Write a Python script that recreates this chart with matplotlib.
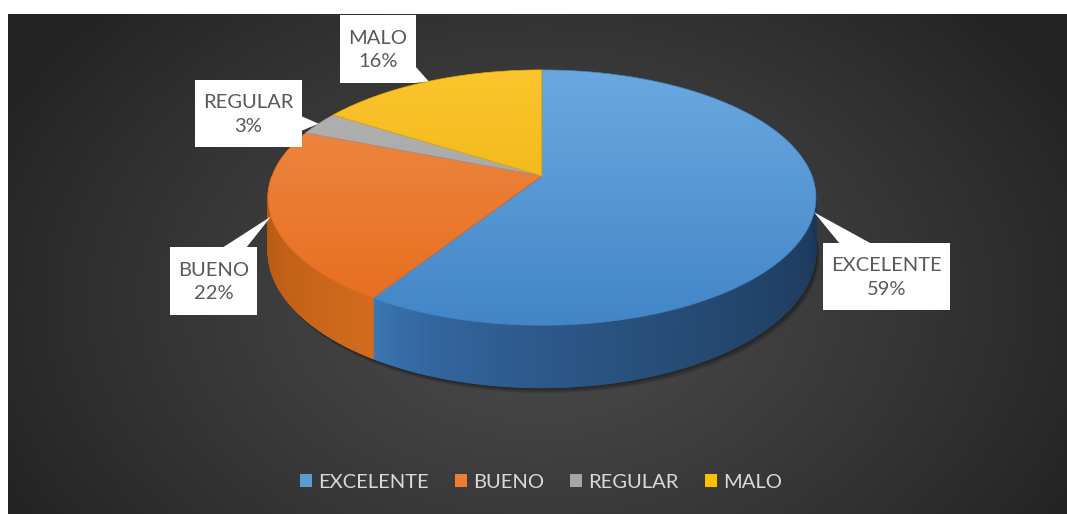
import numpy as np
import matplotlib.pyplot as plt
from matplotlib.patches import Polygon, Rectangle, Patch
from matplotlib.collections import PolyCollection
from matplotlib.colors import to_rgb

plt.rcParams['font.family'] = ['Lato', 'DejaVu Sans']

# data
categories = ['EXCELENTE', 'BUENO', 'REGULAR', 'MALO']
values = [59, 22, 3, 16]

# colours
legend_colors = ['#5b9bd5', '#ed7d31', '#a5a5a5', '#ffc000']
top_light = ['#6ba8e0', '#f08c48', '#b4b4b4', '#fcc52e']
top_dark = ['#4286c8', '#e56c1c', '#9c9c9c', '#e6ac00']
wall_start = ['#3e7bbe', '#b0560f', '#8a8a8a', '#c89600']
wall_end = ['#1a3553', '#d26b1e', '#8a8a8a', '#c89600']

# pie geometry in pixels (perspective disc)
CX, CY = 542, 176
A, B, K = 270, 124, 0.169
DEPTH = 52

# label boxes (x0, y0, x1, y1) and the edge the pointer leaves from
label_boxes = {
    'EXCELENTE': ((823, 243, 950, 310), 'top', (840, 872)),
    'BUENO': ((170, 247, 257, 315), 'top', (222, 246)),
    'REGULAR': ((195, 80, 302, 147), 'right', (116, 131)),
    'MALO': ((340, 15, 416, 83), 'right', (66, 83)),
}


def rim(theta, drop=0.0):
    t = np.radians(theta)
    u, v = np.cos(t), np.sin(t)
    s = 1.0 / (1 + K * v)
    return CX + A * u * s, CY - B * v * s + drop * s


def mix(c1, c2, t):
    c1, c2 = np.array(to_rgb(c1)), np.array(to_rgb(c2))
    return c1 + (c2 - c1) * t


fig = plt.figure(figsize=(10.67, 5.14), dpi=100)
fig.patch.set_facecolor('white')
ax = fig.add_axes([0, 0, 1, 1])
ax.axis('off')

# dark radial background
gx, gy = np.meshgrid(np.linspace(8, 1067, 400), np.linspace(14, 514, 200))
r = np.sqrt(((gx - 540) / 600) ** 2 + ((gy - 300) / 430) ** 2)
r = np.clip(r, 0, 1)
lev = (0x4b - (0x4b - 0x24) * r ** 1.2) / 255.0
bg = np.dstack([lev, lev, lev])
ax.imshow(bg, extent=(8, 1067, 514, 14), aspect='auto', zorder=0, interpolation='bilinear')

# angles: start at 12 o'clock, clockwise
total = float(sum(values))
spans = [v / total * 360 for v in values]
starts = 90 - np.concatenate([[0], np.cumsum(spans)[:-1]])
ends = starts - np.array(spans)

# soft shadow under the pie
full = np.linspace(0, 360, 300)
for off in range(1, 8):
    bx, by = rim(full, DEPTH)
    ax.add_patch(Polygon(np.column_stack([bx + off * 0.5, by + off * 0.8]), closed=True,
                         facecolor='black', edgecolor='none', alpha=0.07, zorder=1))

# side walls (front half only)
for i in range(len(values)):
    phi = np.linspace(ends[i], starts[i], 500)
    mask = np.sin(np.radians(phi)) <= 1e-9
    if mask.sum() < 2:
        continue
    phi = phi[mask]
    tx, ty = rim(phi)
    bx, by = rim(phi, DEPTH)
    polys, cols = [], []
    n = len(phi)
    for j in range(n - 1):
        polys.append([(tx[j], ty[j]), (tx[j + 1], ty[j + 1]), (bx[j + 1], by[j + 1]), (bx[j], by[j])])
        t = (phi[j] - phi[0]) / (phi[-1] - phi[0])
        if i == 0:
            t = t ** 0.55
        cols.append(mix(wall_start[i], wall_end[i], t))
    ax.add_collection(PolyCollection(polys, facecolors=cols, edgecolors=cols, linewidths=0.6, zorder=2))

# top faces with vertical gradient
top_y, bot_y = rim(90)[1], rim(270)[1]
for i in range(len(values)):
    phi = np.linspace(starts[i], ends[i], 300)
    px, py = rim(phi)
    pts = np.vstack([[CX, CY], np.column_stack([px, py])])
    poly = Polygon(pts, closed=True, facecolor='none', edgecolor='none')
    ax.add_patch(poly)
    gy_ = np.linspace(0, 1, 200)[:, None]
    grad = mix(top_light[i], top_dark[i], 0)[None, None, :] * (1 - gy_[..., None]) + \
        mix(top_light[i], top_dark[i], 1)[None, None, :] * gy_[..., None]
    grad = np.repeat(grad, 2, axis=1)
    im = ax.imshow(grad, extent=(CX - A - 10, CX + A + 10, bot_y, top_y), aspect='auto',
                   zorder=3, interpolation='bilinear')
    im.set_clip_path(poly)
    ax.add_patch(Polygon(pts, closed=True, facecolor='none', edgecolor=top_dark[i],
                         linewidth=0.5, zorder=3.5))

# data labels with callouts
for i, name in enumerate(categories):
    (x0, y0, x1, y1), side, (b0, b1) = label_boxes[name]
    mid = (starts[i] + ends[i]) / 2
    tipx, tipy = rim(mid)
    if side == 'top':
        tri = [(b0, y0 + 1), (b1, y0 + 1), (tipx, tipy)]
    else:
        tri = [(x1 - 1, b0), (x1 - 1, b1), (tipx, tipy)]
    ax.add_patch(Polygon(tri, closed=True, facecolor='white', edgecolor='none', zorder=5))
    ax.add_patch(Rectangle((x0, y0), x1 - x0, y1 - y0, facecolor='white', edgecolor='none', zorder=5))
    pct = round(values[i] / total * 100)
    ax.text((x0 + x1) / 2, (y0 + y1) / 2 + 1, f"{name}\n{pct}%", ha='center', va='center',
            fontsize=14.5, color='#595959', linespacing=1.45, zorder=6)

ax.set_xlim(0, 1067)
ax.set_ylim(514, 0)

handles = [Patch(facecolor=c, edgecolor='none') for c in legend_colors]
ax.legend(handles, categories, loc='center', bbox_to_anchor=(541 / 1067, 1 - 482 / 514),
          bbox_transform=fig.transFigure, ncol=4, frameon=False, fontsize=14.5,
          labelcolor='#d9d9d9', handlelength=0.6, handleheight=0.6, handletextpad=0.3,
          columnspacing=1.3)

fig.savefig('out.png', dpi=100, facecolor='white')
